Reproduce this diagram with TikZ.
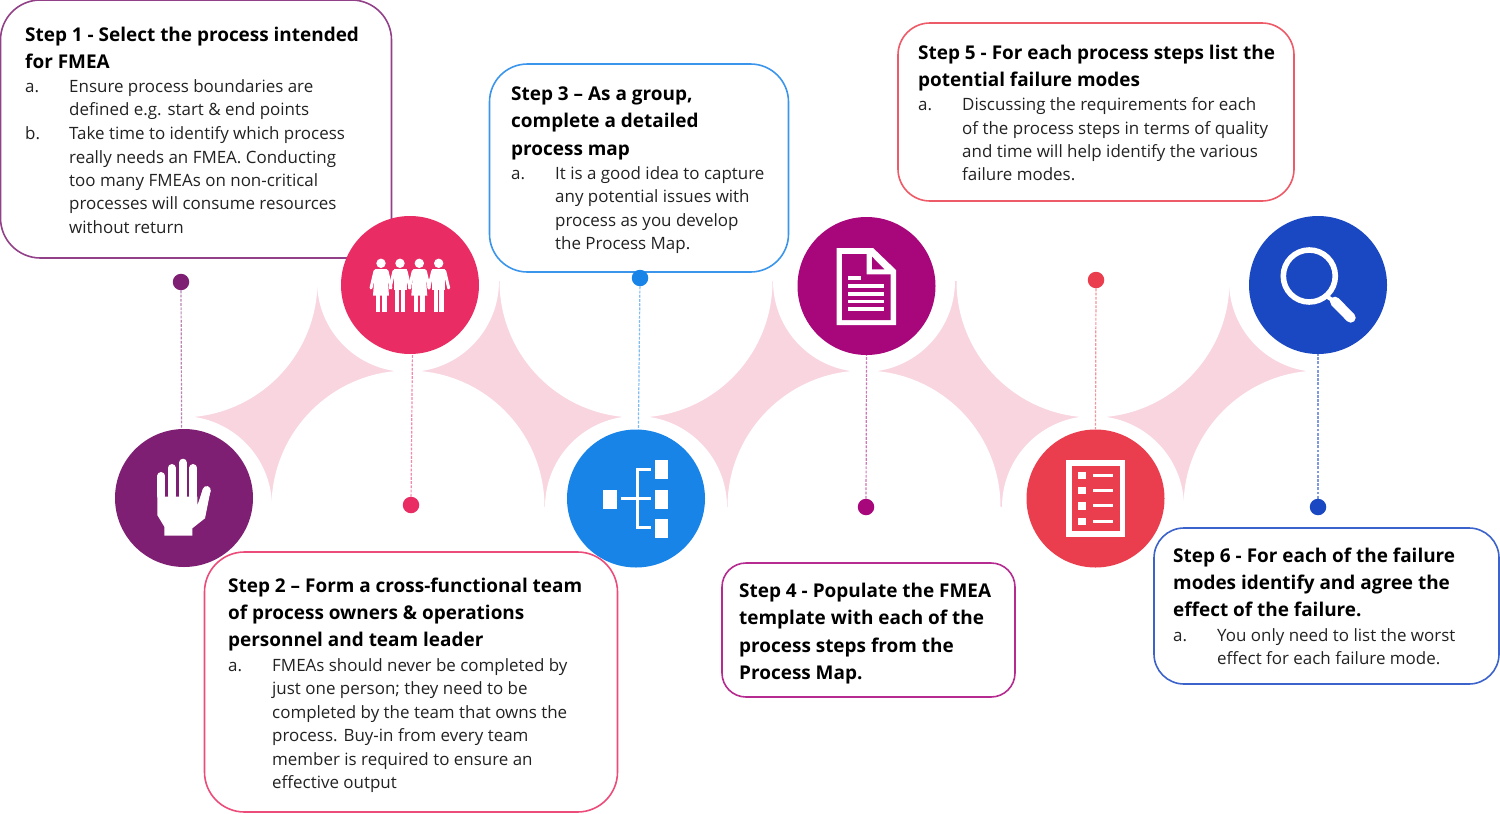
\documentclass[tikz,border=0pt]{standalone}
\usepackage{fontspec}
\setmainfont{Open Sans}
\definecolor{cpurple}{HTML}{7F1F73}
\definecolor{crose}{HTML}{E92C63}
\definecolor{cblue}{HTML}{1884E8}
\definecolor{cmagenta}{HTML}{A8067B}
\definecolor{cred}{HTML}{EA3E4E}
\definecolor{cnavy}{HTML}{1A47C2}
\definecolor{cwave}{HTML}{F9D5E0}
\definecolor{cbody}{HTML}{222222}
\tikzset{
	stepbox/.style={draw, line width=1.6pt, fill=white, inner sep=0pt},
	stepcircle/.style={circle, inner sep=0pt, minimum size=138pt},
	stepdot/.style={circle, inner sep=0pt, minimum size=16.5pt},
	stepline/.style={line width=1.2pt, dash pattern=on 2.8pt off 1.4pt, opacity=0.55},
	steptitle/.style={anchor=north west, align=left, inner sep=0pt, font=\fontsize{18.95}{27.3}\selectfont\bfseries},
	steptext/.style={anchor=north west, align=left, inner sep=0pt, text=cbody, font=\fontsize{16.95}{23.4}\selectfont},
}
\begin{document}
\begin{tikzpicture}[x=1pt, y=1pt]
	\useasboundingbox (0,0) rectangle (1500,-814);
	
	%Wave
	\fill[cwave] (181,-281) rectangle (1320,-507);
	\foreach \x/\ra/\rb in {181/136.5/91, 408/91/136.5, 636/136.5/91, 864/91/136.5, 1093/136.5/91, 1320/91/136.5}{
		\fill[white] (\x,-281) circle (\ra pt);
		\fill[white] (\x,-507) circle (\rb pt);
	}
	
	%Step 1
	\node[stepbox, draw=cpurple!85, rounded corners=40pt, minimum width=391pt, minimum height=258pt] (b1) at (196,-129) {};
	\def\x{25}
	\node[steptitle] (h1) at (\x,-27) {Step 1 - Select the process intended\\for FMEA};
	\node[steptext] (m1a) at (\x,-79.5) {\vphantom{d}a.};
	\node[steptext] (t1a) at (\x+44,-79.5) {Ensure process boundaries are\\defined e.g. start \& end points};
	\node[steptext] (m1b) at (\x,-126.5) {\vphantom{d}b.};
	\node[steptext] (t1b) at (\x+44,-126.5) {Take time to identify which process\\really needs an FMEA. Conducting\\too many FMEAs on non-critical\\processes will consume resources\\without return};
	
	%Step 2
	\node[stepbox, draw=crose!85, rounded corners=40pt, minimum width=413pt, minimum height=260pt] (b2) at (411,-682) {};
	\def\x{228}
	\node[steptitle] (h2) at (\x,-577.5) {Step 2 -- Form a cross-functional team\\of process owners \& operations\\personnel and team leader};
	\node[steptext] (m2a) at (\x,-658.5) {\vphantom{d}a.};
	\node[steptext] (t2a) at (\x+44,-658.5) {FMEAs should never be completed by\\just one person; they need to be\\completed by the team that owns the\\process. Buy-in from every team\\member is required to ensure an\\effective output};
	
	%Step 3
	\node[stepbox, draw=cblue!85, rounded corners=38pt, minimum width=299pt, minimum height=208pt] (b3) at (639,-168) {};
	\def\x{511}
	\node[steptitle] (h3) at (\x,-86.5) {Step 3 -- As a group,\\complete a detailed\\process map};
	\node[steptext] (m3a) at (\x,-166.5) {\vphantom{d}a.};
	\node[steptext] (t3a) at (\x+44,-166.5) {It is a good idea to capture\\any potential issues with\\process as you develop\\the Process Map.};
	
	%Step 4
	\node[stepbox, draw=cmagenta!85, rounded corners=24pt, minimum width=293pt, minimum height=134pt] (b4) at (868.5,-630) {};
	\def\x{739}
	\node[steptitle] (h4) at (\x,-583) {Step 4 - Populate the FMEA\\template with each of the\\process steps from the\\Process Map.};
	
	%Step 5
	\node[stepbox, draw=cred!85, rounded corners=32pt, minimum width=396pt, minimum height=178pt] (b5) at (1096,-112) {};
	\def\x{918}
	\node[steptitle] (h5) at (\x,-45) {Step 5 - For each process steps list the\\potential failure modes};
	\node[steptext] (m5a) at (\x,-97.5) {\vphantom{d}a.};
	\node[steptext] (t5a) at (\x+44,-97.5) {Discussing the requirements for each\\of the process steps in terms of quality\\and time will help identify the various\\failure modes.};
	
	%Step 6
	\node[stepbox, draw=cnavy!85, rounded corners=30pt, minimum width=345pt, minimum height=156pt] (b6) at (1326.5,-606) {};
	\def\x{1173}
	\node[steptitle] (h6) at (\x,-547.5) {Step 6 - For each of the failure\\modes identify and agree the\\effect of the failure.};
	\node[steptext] (m6a) at (\x,-628.5) {\vphantom{d}a.};
	\node[steptext] (t6a) at (\x+44,-628.5) {You only need to list the worst\\effect for each failure mode.};
	
	%Circles and dots
	\node[stepcircle, fill=cpurple] (c1) at (184,-498) {};
	\node[stepcircle, fill=crose] (c2) at (410,-285) {};
	\node[stepcircle, fill=cblue] (c3) at (636,-498.5) {};
	\node[stepcircle, fill=cmagenta] (c4) at (866.5,-286) {};
	\node[stepcircle, fill=cred] (c5) at (1095.5,-498.5) {};
	\node[stepcircle, fill=cnavy] (c6) at (1318,-285) {};
	\node[stepdot, fill=cpurple] (d1) at (181,-282) {};
	\node[stepdot, fill=crose] (d2) at (411,-505) {};
	\node[stepdot, fill=cblue] (d3) at (640,-278) {};
	\node[stepdot, fill=cmagenta] (d4) at (866,-507) {};
	\node[stepdot, fill=cred] (d5) at (1096,-280) {};
	\node[stepdot, fill=cnavy] (d6) at (1318,-507) {};
	
	\draw[stepline, cpurple] (d1) -- (c1.92);
	\draw[stepline, crose] (d2) -- (c2.272);
	\draw[stepline, cblue] (d3) -- (c3.88);
	\draw[stepline, cmagenta] (d4) -- (c4.south);
	\draw[stepline, cred] (d5) -- (c5.north);
	\draw[stepline, cnavy] (d6) -- (c6.south);
	
	%Hand
	\begin{scope}[shift={(c1.center)}, white]
		\fill (-26.7,1.3) -- (13.3,1.3) -- (13.3,-7.7) -- (19,9) -- (26.7,8) -- (21,-20.3) -- (8.3,-30.3) -- (8.3,-37.7) -- (-19.7,-37.7) -- (-19.7,-28.7) -- (-26.7,-17) -- cycle;
		\foreach \x/\y in {-22.7/22, -12.3/30, -1/35.3, 9.3/30}{
			\draw[line width=8pt, line cap=round] (\x,\y) -- (\x,2);
		}
		\draw[line width=8pt, line cap=round] (22.7,8) -- (18,-8);
	\end{scope}
	
	%Team
	\begin{scope}[shift={(c2.center)}, white]
		\foreach \x in {-29,9.3}{
			\fill (\x,21.7) circle (4.7pt);
			\fill (\x-6,16) -- (\x+6,16) -- (\x+8,-10.7) -- (\x-8,-10.7) -- cycle;
			\fill (\x-5.5,-10) rectangle (\x-1,-26.7);
			\fill (\x+1,-10) rectangle (\x+5.5,-26.7);
			\draw[line width=3pt, line cap=round] (\x-6,14) -- (\x-10,-3) (\x+6,14) -- (\x+10,-3);
		}
		\foreach \x in {-10,28.7}{
			\fill (\x,21.7) circle (4.7pt);
			\fill (\x-6.5,16) rectangle (\x+6.5,-5);
			\fill (\x-5,-5) rectangle (\x-0.6,-26.7);
			\fill (\x+0.6,-5) rectangle (\x+5,-26.7);
			\draw[line width=3pt, line cap=round] (\x-6,14) -- (\x-10,-3) (\x+6,14) -- (\x+10,-3);
		}
	\end{scope}
	
	%Tree
	\begin{scope}[shift={(c3.center)}, white]
		\fill (-32.7,9) rectangle (-19.3,-10);
		\fill (19,39) rectangle (32.3,20);
		\fill (19,9) rectangle (32.3,-10);
		\fill (19,-20) rectangle (32.3,-39);
		\draw[line width=3.5pt] (15,29) -- (1.5,29) -- (1.5,-29) -- (15,-29);
		\draw[line width=3pt] (-15.3,0) -- (15,0);
	\end{scope}
	
	%Document
	\begin{scope}[shift={(c4.center)}]
		\fill[white] (-29.8,37.8) -- (6.8,37.8) -- (29.5,16) -- (29.5,-39) -- (-29.8,-39) -- cycle;
		\fill[cmagenta] (-24.5,32) -- (0,32) -- (0,11.7) -- (24.2,11.7) -- (24.2,-34) -- (-24.5,-34) -- cycle;
		\fill[cmagenta] (5.5,29.3) -- (17.8,16.7) -- (5.5,16.7) -- cycle;
		\draw[white, line width=3.6pt] (-18.2,8) -- (-5.8,8);
		\foreach \y in {0,-7.7,-15.3,-23}{
			\draw[white, line width=3.6pt] (-18.2,\y) -- (17.8,\y);
		}
	\end{scope}
	
	%Checklist
	\begin{scope}[shift={(c5.center)}]
		\fill[white] (-29.5,38.3) rectangle (29.8,-38.3);
		\fill[cred] (-24,32.7) rectangle (24.5,-32.7);
		\foreach \y in {23.3,8,-7.3,-22.7}{
			\fill[white] (-17.2,\y+3.7) rectangle (-9.5,\y-3.7);
			\draw[white, line width=3pt] (-2.2,\y) -- (17.2,\y);
		}
	\end{scope}
	
	%Magnifier
	\begin{scope}[shift={(c6.center)}, white]
		\draw[line width=5.6pt] (-8.7,9) circle (26pt);
		\draw[line width=4pt] (9.6,-12) -- (17,-16.7);
		\draw[line width=10pt, line cap=round] (17,-16.7) -- (32.7,-32.7);
	\end{scope}
\end{tikzpicture}
\end{document}
